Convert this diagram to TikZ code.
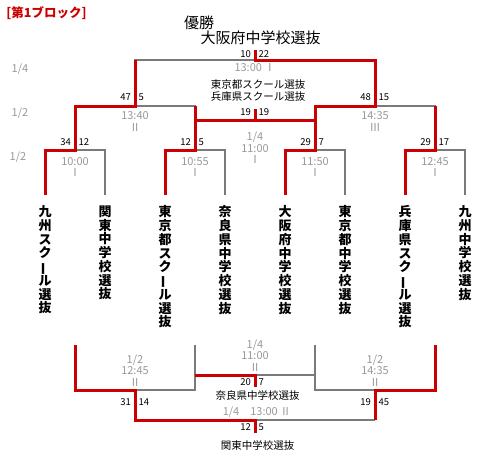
\documentclass[tikz,border=0pt]{standalone}
\usepackage{fontspec}
\setmainfont{Noto Sans CJK JP}
\usepackage{graphicx}
\usetikzlibrary{positioning}
\definecolor{winred}{HTML}{CC0000}
\definecolor{linegrey}{HTML}{7A7A7A}
\definecolor{textgrey}{HTML}{999999}
\newcommand{\tatebar}{\rotatebox[origin=c]{90}{ー}}
\tikzset{
  win/.style={draw=winred,line width=3pt,line join=miter},
  lose/.style={draw=linegrey,line width=2pt},
  score/.style={inner sep=0pt,font=\fontsize{9.5}{10}\selectfont},
  slot/.style={inner sep=0pt,text=textgrey,align=center,font=\fontsize{11}{11.5}\selectfont},
  team/.style={below=10.5pt of #1,anchor=north,inner sep=0pt,align=center,font=\bfseries\fontsize{13}{13.75}\selectfont},
  champ/.style={inner sep=0pt,font=\fontsize{15}{16}\selectfont},
  place/.style={inner sep=0pt,align=center,font=\fontsize{10.5}{12}\selectfont}
}
\begin{document}
\begin{tikzpicture}[x=1pt,y=-1pt]
  \useasboundingbox (0,0) rectangle (500,450);
  % points of the upper bracket
  \foreach \i/\x in {1/45,2/105,3/165,4/225,5/285,6/345,7/405,8/465}{\coordinate (t\i) at (\x,195);}
  \foreach \i/\x in {1/75,2/195,3/315,4/435}{\coordinate (a\i) at (\x,150);}
  \coordinate (b1) at (135,106);
  \coordinate (b2) at (375,106);
  \coordinate (fin) at (255,60);
  \coordinate (finw) at (255,50);
  \coordinate (thr) at (255,120);
  \coordinate (thrw) at (255,109);
  % points of the lower bracket
  \foreach \i/\x in {1/75,2/195,3/315,4/435}{\coordinate (u\i) at (\x,345);}
  \coordinate (d1) at (135,390);
  \coordinate (d2) at (375,390);
  \coordinate (sem) at (255,375);
  \coordinate (semw) at (255,387);
  \coordinate (low) at (255,420);
  \coordinate (loww) at (255,433);

  % grey lines
  \draw[lose] (t2) |- (a1);
  \draw[lose] (t4) |- (a2);
  \draw[lose] (t6) |- (a3);
  \draw[lose] (t8) |- (a4);
  \draw[lose] (a2) |- (b1);
  \draw[lose] (a4) |- (b2);
  \draw[lose] (b1) |- (fin);
  \draw[lose] (u2) |- (d1);
  \draw[lose] (u3) |- (d2);
  \draw[lose] (sem) -- (u3 |- sem);
  \draw[lose] (low) -- (d2 |- low);

  % red lines
  \draw[win] (t1) |- (a1) |- (b1) -- (b1 |- fin);
  \draw[win] (t3) |- (a2) -- (a2 |- b1);
  \draw[win] (t5) |- (a3) |- (b2) |- (fin) -- (finw);
  \draw[win] (t7) |- (a4) -- (a4 |- b2);
  \draw[win] (a2 |- thr) -- (a3 |- thr);
  \draw[win] (thr) -- (thrw);
  \draw[win] (u1) |- (d1) |- (low) -- (loww);
  \draw[win] (u4) |- (d2) -- (d2 |- low);
  \draw[win] (u2 |- sem) -- (sem) -- (semw);

  % title and winners
  \node[inner sep=0pt,text=winred,font=\bfseries\fontsize{12.5}{12.5}\selectfont] (title) at (46.5,13) {[第1ブロック]};
  \node[champ] (yusho) at (199,23) {優勝};
  \node[champ] (champion) at (260.5,38) {大阪府中学校選抜};
  \node[place] (third) at (258,91) {東京都スクール選抜\\兵庫県スクール選抜};
  \node[place] (nara) at (257.5,395) {奈良県中学校選抜};
  \node[place] (kanto) at (257.5,445) {関東中学校選抜};

  % round labels
  \node[slot] (rd1) at (20,69) {1/4};
  \node[slot] (rd2) at (20,113) {1/2};
  \node[slot] (rd3) at (18,157) {1/2};

  % times
  \node[slot] (tf) at (255,68) {13:00 Ⅰ};
  \node[slot] (ts1) at (135,121.5) {13:40\\Ⅱ};
  \node[slot] (ts2) at (375,121.5) {14:35\\Ⅲ};
  \node[slot] (tt) at (255,148) {1/4\\11:00\\Ⅰ};
  \node[slot] (tq1) at (75,167) {10:00\\Ⅰ};
  \node[slot] (tq2) at (195,167) {10:55\\Ⅰ};
  \node[slot] (tq3) at (315,167) {11:50\\Ⅰ};
  \node[slot] (tq4) at (435,167) {12:45\\Ⅰ};
  \node[slot] (lt) at (255,355.5) {1/4\\11:00\\Ⅱ};
  \node[slot] (ls1) at (135,370.5) {1/2\\12:45\\Ⅱ};
  \node[slot] (ls2) at (375,370.5) {1/2\\14:35\\Ⅱ};
  \node[slot] (lf) at (257,412) {1/4\quad 13:00 Ⅱ};

  % scores
  \foreach \x/\y/\l/\r in {255/54/10/22,135/97/47/5,375/97/48/15,255/112/19/19,
      75/142/34/12,195/142/12/5,315/142/29/7,435/142/29/17,
      255/382/20/7,135/402/31/14,375/402/19/45,255/427/12/5}{
    \node[score,anchor=east] at (\x-4,\y) {\l};
    \node[score,anchor=west] at (\x+3.5,\y) {\r};
  }

  % team names
  \node[team=t1] (n1) {九\\州\\ス\\ク\\\tatebar\\ル\\選\\抜};
  \node[team=t2] (n2) {関\\東\\中\\学\\校\\選\\抜};
  \node[team=t3] (n3) {東\\京\\都\\ス\\ク\\\tatebar\\ル\\選\\抜};
  \node[team=t4] (n4) {奈\\良\\県\\中\\学\\校\\選\\抜};
  \node[team=t5] (n5) {大\\阪\\府\\中\\学\\校\\選\\抜};
  \node[team=t6] (n6) {東\\京\\都\\中\\学\\校\\選\\抜};
  \node[team=t7] (n7) {兵\\庫\\県\\ス\\ク\\\tatebar\\ル\\選\\抜};
  \node[team=t8] (n8) {九\\州\\中\\学\\校\\選\\抜};
\end{tikzpicture}
\end{document}
